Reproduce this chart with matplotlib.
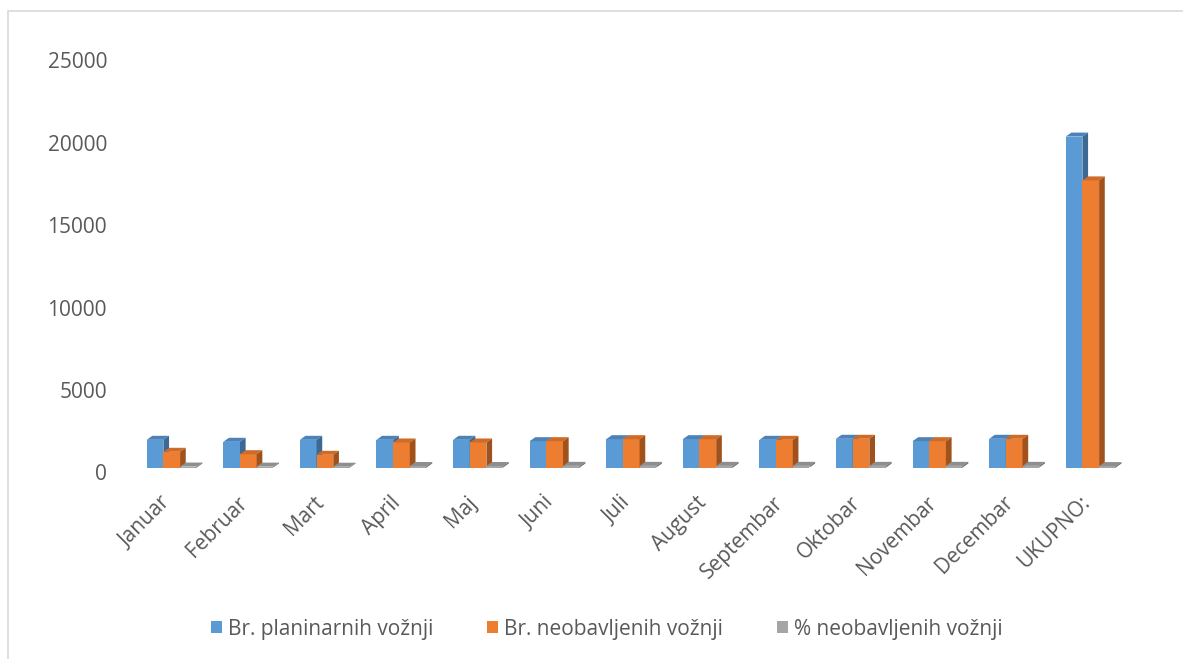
import matplotlib
matplotlib.use('Agg')
import matplotlib.pyplot as plt
from matplotlib.patches import Polygon, Patch, Rectangle
from matplotlib.transforms import ScaledTranslation

plt.rcParams['font.family'] = ['Open Sans', 'DejaVu Sans']

mjeseci = ['Januar', 'Februar', 'Mart', 'April', 'Maj', 'Juni', 'Juli', 'August',
           'Septembar', 'Oktobar', 'Novembar', 'Decembar', 'UKUPNO:']
planirane = [1680, 1560, 1680, 1680, 1680, 1596, 1718, 1718, 1680, 1742, 1596, 1742, 20080]
neobavljene = [953, 807, 771, 1518, 1518, 1596, 1718, 1718, 1680, 1742, 1596, 1742, 17420]
procenat = [57, 52, 46, 90, 90, 100, 100, 100, 100, 100, 100, 100, 87]

serije = ['Br. planinarnih vožnji', 'Br. neobavljenih vožnji', '% neobavljenih vožnji']
# front, top, side
boje = [('#5B9BD5', '#4D82B8', '#3C6894'),
        ('#ED7D31', '#CF6A27', '#A0521D'),
        ('#A5A5A5', '#8E8E8E', '#6F6F6F')]

W = 0.218      # bar width (category units)
DX = 0.074     # depth in x
DY = 243       # depth in y (data units)

fig = plt.figure(figsize=(11.83, 6.59), dpi=100)
ax = fig.add_axes([0.1128, (659 - 467.5) / 659, 0.8416, 412 / 659])

x = list(range(len(mjeseci)))
for k, (vals, (cf, ct, cs)) in enumerate(zip([planirane, neobavljene, procenat], boje)):
    lefts = [xi + (k - 1.5) * W for xi in x]
    ax.bar(lefts, vals, width=W, align='edge', color=cf, linewidth=0, zorder=3 + k)
    for x0, h in zip(lefts, vals):
        top = Polygon([(x0, h), (x0 + W, h), (x0 + W + DX, h + DY), (x0 + DX, h + DY)],
                      closed=True, facecolor=ct, edgecolor='none', zorder=3 + k, clip_on=False)
        side = Polygon([(x0 + W, 0), (x0 + W + DX, DY), (x0 + W + DX, h + DY), (x0 + W, h)],
                       closed=True, facecolor=cs, edgecolor='none', zorder=3 + k, clip_on=False)
        ax.add_patch(top)
        ax.add_patch(side)

ax.set_xlim(-0.5, len(mjeseci) - 0.5)
ax.set_ylim(0, 25000)
ax.set_yticks([0, 5000, 10000, 15000, 20000, 25000])
ax.set_xticks(x)
ax.set_xticklabels(mjeseci, rotation=45, ha='right', va='center', rotation_mode='anchor')
ax.tick_params(axis='y', length=0, pad=19, labelsize=15, labelcolor='#595959')
ax.tick_params(axis='x', length=0, pad=23, labelsize=15, labelcolor='#595959')
for lbl in ax.get_yticklabels():
    lbl.set_transform(lbl.get_transform() + ScaledTranslation(0, -0.05, fig.dpi_scale_trans))
for lbl in ax.get_xticklabels():
    lbl.set_transform(lbl.get_transform() + ScaledTranslation(-0.04, 0, fig.dpi_scale_trans))
for s in ax.spines.values():
    s.set_visible(False)
ax.patch.set_visible(False)

handles = [Patch(facecolor=b[0], edgecolor='none') for b in boje]
fig.legend(handles, serije, loc='center', bbox_to_anchor=(0.513, 0.0455), ncol=3,
           frameon=False, fontsize=15, labelcolor='#595959', handlelength=0.5,
           handleheight=0.5, handletextpad=0.3, columnspacing=2.6)

fig.patches.append(Rectangle((8 / 1183, -0.1), 1.2, 1.1 - 11 / 659, transform=fig.transFigure,
                             fill=False, edgecolor='#D9D9D9', linewidth=1.2))

fig.savefig('out.png', dpi=100, facecolor='white')
